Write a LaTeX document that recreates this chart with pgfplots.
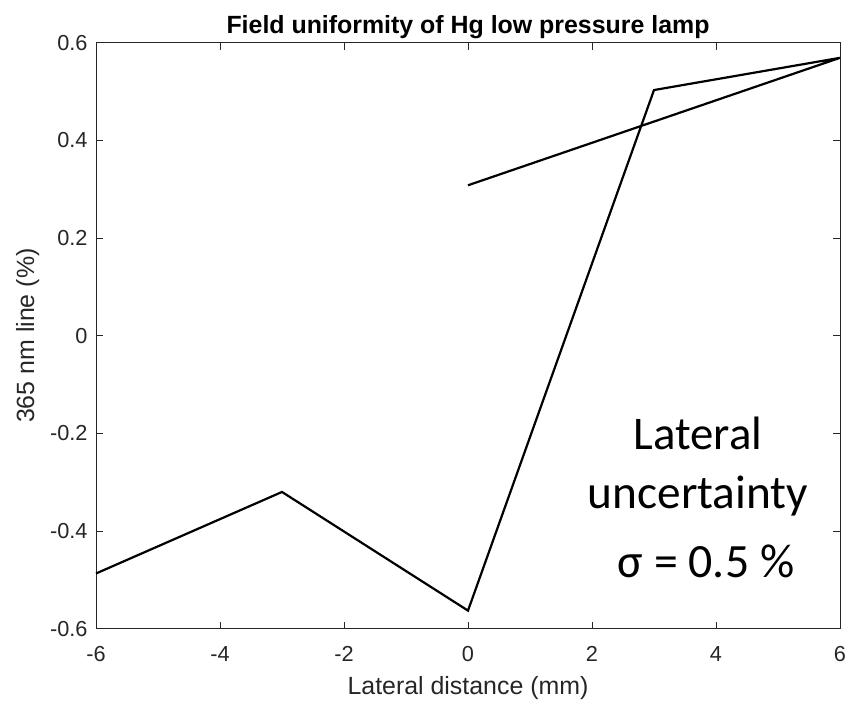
\documentclass[border=0pt]{standalone}
\usepackage{pgfplots}
\pgfplotsset{compat=1.18}
\usepackage{fontspec}
\setmainfont{Liberation Sans}
\newfontfamily\carlito{Carlito}
\definecolor{axgray}{rgb}{0.15,0.15,0.15}
\begin{document}
\begin{tikzpicture}
\begin{axis}[
  scale only axis,
  width=744bp, height=586bp,
  xmin=-6, xmax=6, ymin=-0.6, ymax=0.6,
  xtick={-6,-4,-2,0,2,4,6},
  ytick={-0.6,-0.4,-0.2,0,0.2,0.4,0.6},
  yticklabels={-0.6,-0.4,-0.2,0,0.2,0.4,0.6},
  xticklabels={-6,-4,-2,0,2,4,6},
  tick align=inside,
  major tick length=7bp,
  axis line style={axgray, line width=0.9bp},
  every tick/.style={axgray, line width=0.9bp},
  tick label style={axgray, font=\fontsize{21.8}{26}\selectfont},
  /pgf/number format/assume math mode=true,
  xticklabel style={yshift=-14bp},
  yticklabel style={xshift=-5bp},
  xlabel={Lateral distance (mm)},
  ylabel={365 nm line (\%)},
  label style={axgray, font=\fontsize{25}{30}\selectfont},
  xlabel style={yshift=-8bp},
  ylabel style={yshift=4bp},
  title={\textbf{Field uniformity of Hg low pressure lamp}},
  title style={font=\fontsize{25}{30}\selectfont, yshift=-6bp},
  clip=false,
]
\addplot[black, line width=2.2bp, line join=miter] coordinates {
  (-6,-0.487) (-3,-0.320) (0,-0.563) (3,0.503) (6,0.569) (0,0.308)
};
\node[anchor=base, font=\carlito\fontsize{47}{56}\selectfont] at (axis cs:3.71,-0.234) {Lateral};
\node[anchor=base, font=\carlito\fontsize{47.5}{56}\selectfont] at (axis cs:3.71,-0.353) {uncertainty};
\node[anchor=base, font=\carlito\fontsize{48}{56}\selectfont] at (axis cs:3.84,-0.496) {σ = 0.5 \%};
\coordinate (sw) at (rel axis cs:0,0);
\coordinate (ne) at (rel axis cs:1,1);
\end{axis}
\useasboundingbox ([shift={(-96bp,-72bp)}]sw) rectangle ([shift={(10bp,42.7bp)}]ne);
\end{tikzpicture}
\end{document}
